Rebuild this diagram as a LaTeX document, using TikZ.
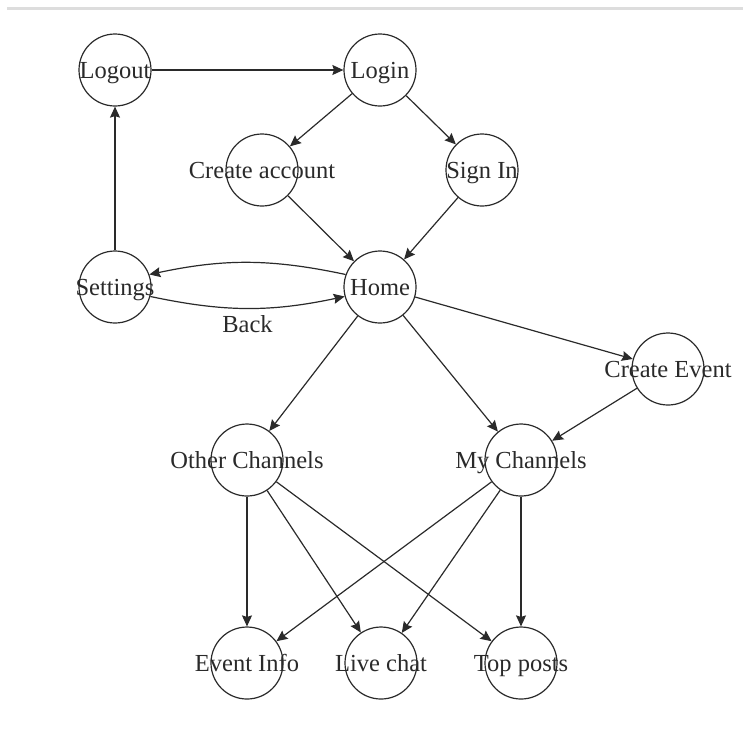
\documentclass[tikz,border=0pt]{standalone}
\usepackage{fontspec}
\setmainfont{Liberation Serif}
\usetikzlibrary{arrows.meta}
\definecolor{ink}{HTML}{2A2A2A}
\definecolor{rule}{HTML}{DDDDDD}
\tikzset{
  state/.style={circle, draw=ink, line width=1.2pt, minimum size=72pt, inner sep=0pt},
  lbl/.style={font=\fontsize{24.5}{27}\selectfont, text=ink, inner sep=0pt, text height=20pt, text depth=4pt},
  edge/.style={draw=ink, line width=1.2pt, -{Stealth[length=11pt,width=10pt,inset=1.5pt]}},
}
\newcommand{\st}[3]{\node[state, label={[lbl]center:#3}] (#1) at #2 {};}
\begin{document}
\begin{tikzpicture}[x=1pt,y=-1pt]
\useasboundingbox (0,0) rectangle (743,740);
\fill[rule] (7,6.5) rectangle (743,10);
\st{logout}{(115,70)}{Logout}
\st{login}{(380,70)}{Login}
\st{create}{(262,170)}{Create account}
\st{signin}{(482,170)}{Sign In}
\st{settings}{(115,287)}{Settings}
\st{home}{(380,287)}{Home}
\st{cevent}{(668,369)}{Create Event}
\st{other}{(247,460)}{Other Channels}
\st{mine}{(521,460)}{My Channels}
\st{info}{(247,663)}{Event Info}
\st{chat}{(381,663)}{Live chat}
\st{top}{(521,663)}{Top posts}
\draw[edge] (logout) -- (login);
\draw[edge] (login) -- (create);
\draw[edge] (login) -- (signin);
\draw[edge] (create) -- (home);
\draw[edge] (signin) -- (home);
\draw[edge] (settings) -- (logout);
\draw[edge] (home.160) to[bend right=12] (settings.20);
\draw[edge] (settings.-15) to[bend right=12] node[lbl, midway, yshift=-16pt] (back) {Back} (home.195);
\draw[edge] (home) -- (other);
\draw[edge] (home) -- (mine);
\draw[edge] (home) -- (cevent);
\draw[edge] (cevent) -- (mine);
\draw[edge] (other) -- (info);
\draw[edge] (other) -- (chat);
\draw[edge] (other) -- (top);
\draw[edge] (mine) -- (info);
\draw[edge] (mine) -- (chat);
\draw[edge] (mine) -- (top);
\end{tikzpicture}
\end{document}
